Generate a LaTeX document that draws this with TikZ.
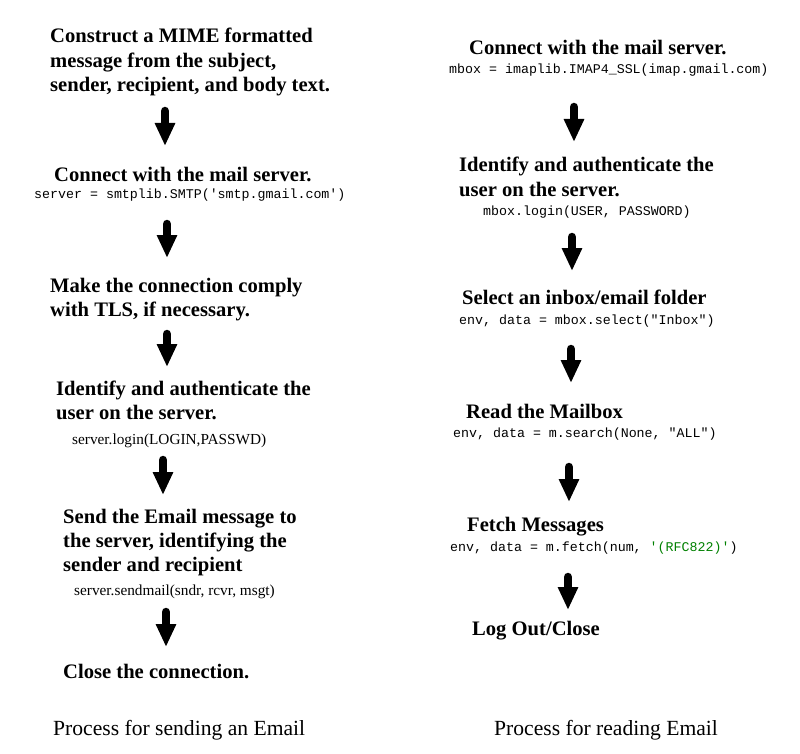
\documentclass[tikz,border=0pt]{standalone}
\usepackage{fontspec}
\setmainfont{Liberation Serif}
\newfontfamily\codefont{Liberation Mono}
\usetikzlibrary{arrows.meta}
\definecolor{strgreen}{RGB}{0,128,0}
\newcommand{\steplines}[1]{\begin{tabular}[t]{@{}l@{}}#1\end{tabular}}
\tikzset{
  stephead/.style={anchor=base west,inner sep=0pt,font=\fontsize{20.6}{24.3}\selectfont\bfseries},
  stepcode/.style={anchor=base west,inner sep=0pt,font=\fontsize{13.3}{16}\selectfont\codefont},
  steprm/.style={anchor=base west,inner sep=0pt,font=\fontsize{15.3}{18}\selectfont},
  caption/.style={anchor=base west,inner sep=0pt,font=\fontsize{21.6}{24}\selectfont},
  bigarrow/.style={line width=8.5pt,line cap=round,-{Triangle[length=23pt,width=19pt]}}
}
\begin{document}
\begin{tikzpicture}[x=1pt,y=-1pt]
    \useasboundingbox (0,0) rectangle (800,754);
    % sending column
    \node[stephead] (mime) at (50,43) {\steplines{Construct a MIME formatted\\message from the subject,\\sender, recipient, and body text.}};
    \node[stephead] (conn) at (54,182) {Connect with the mail server.};
    \node[stepcode] (smtp) at (34,198) {server = smtplib.SMTP('smtp.gmail.com')};
    \node[stephead] (tls) at (50,292) {\steplines{Make the connection comply\\with TLS, if necessary.}};
    \node[stephead] (auth) at (56,395) {\steplines{Identify and authenticate the\\user on the server.}};
    \node[steprm] (login) at (72,444) {server.login(LOGIN,PASSWD)};
    \node[stephead] (send) at (63,523) {\steplines{Send the Email message to\\the server, identifying the\\sender and recipient}};
    \node[steprm] (sendmail) at (74,595) {server.sendmail(sndr, rcvr, msgt)};
    \node[stephead] (close) at (63,678) {Close the connection.};
    \node[caption] (capsend) at (53,735) {Process for sending an Email};

    % reading column
    \node[stephead] (rconn) at (469,55) {Connect with the mail server.};
    \node[stepcode] (imap) at (449,74) {mbox = imaplib.IMAP4\_SSL(imap.gmail.com)};
    \node[stephead] (rauth) at (459,172) {\steplines{Identify and authenticate the\\user on the server.}};
    \node[stepcode] (rlogin) at (483,215) {mbox.login(USER, PASSWORD)};
    \node[stephead] (folder) at (462,304) {Select an inbox/email folder};
    \node[stepcode] (select) at (459,324) {env, data = mbox.select("Inbox")};
    \node[stephead] (readbox) at (466,418) {Read the Mailbox};
    \node[stepcode] (search) at (453,437) {env, data = m.search(None, "ALL")};
    \node[stephead] (fetchmsg) at (467,531) {Fetch Messages};
    \node[stepcode] (fetch) at (450,551) {env, data = m.fetch(num, \textcolor{strgreen}{'(RFC822)'})};
    \node[stephead] (logout) at (472,635) {Log Out/Close};
    \node[caption] (capread) at (494,735) {Process for reading Email};

    % arrows: x, top, tip
    \foreach \i/\x/\t/\b in {1/165/107/146, 2/167/220/258, 3/167/330/367, 4/163/456/495, 5/166/608/647,
                             6/574/103/142, 7/572/233/271, 8/571/345/383, 9/569/463/502, 10/568/573/610} {
      \coordinate (top\i) at (\x,\t+4);
      \coordinate (tip\i) at (\x,\b);
      \draw[bigarrow] (top\i) -- (tip\i);
    }
\end{tikzpicture}
\end{document}
